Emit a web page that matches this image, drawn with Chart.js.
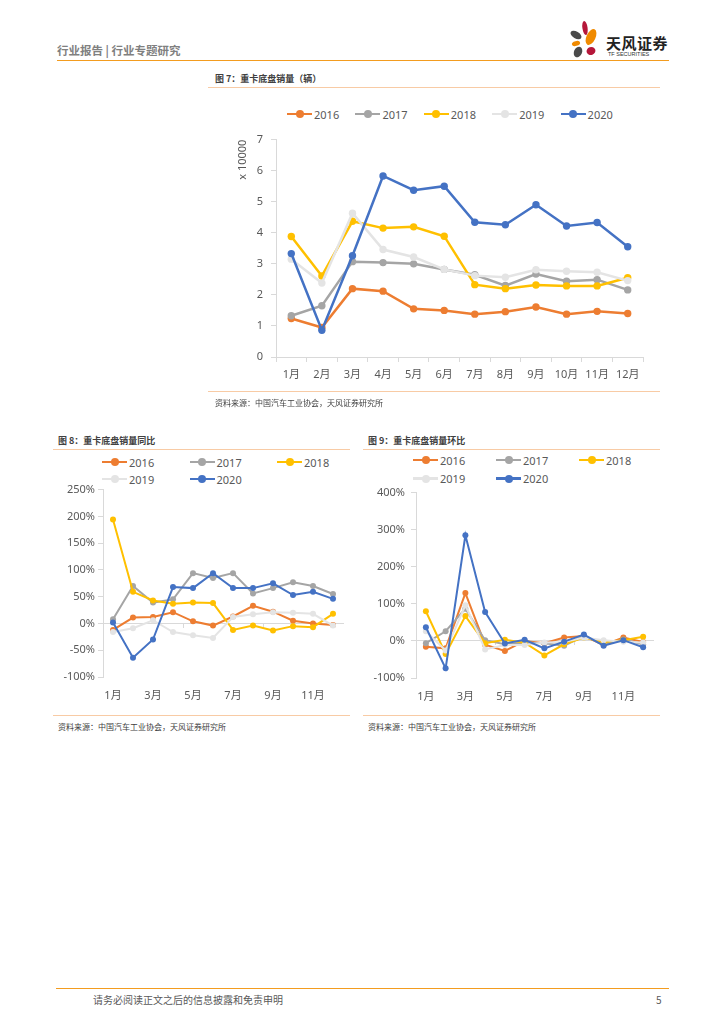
<!DOCTYPE html>
<html>
<head>
<meta charset="utf-8">
<script src="https://cdn.jsdelivr.net/npm/chart.js@4.4.1/dist/chart.umd.min.js"></script>
<style>
  body { margin: 0; background: #fff; font-family: "Noto Sans CJK SC", "Noto Sans", sans-serif; }
  #page { position: relative; width: 724px; height: 1024px; overflow: hidden; }
  .abs { position: absolute; white-space: nowrap; }
  .rule { position: absolute; height: 0; }
  .hdr { left: 57px; top: 42px; font-size: 11.5px; font-weight: bold; color: #808080; }
  .ttl { font-size: 9px; font-weight: bold; color: #404040; }
  .src { font-size: 8px; color: #404040; }
  .lg { position: absolute; display: flex; align-items: center; height: 14px; font-size: 11px; color: #595959; font-family: "Noto Sans", "Noto Sans CJK SC", sans-serif; }
  .sw { position: relative; display: inline-block; height: 2.5px; margin-right: 2px; }
  .sw i { position: absolute; left: 50%; top: 50%; width: 8px; height: 8px; margin: -4px 0 0 -4px; border-radius: 50%; }
  canvas { position: absolute; }
</style>
</head>
<body>
<div id="page">
  <div class="abs hdr">行业报告 | 行业专题研究</div>
  <svg class="abs" style="left:566px;top:20px" width="36" height="40" viewBox="0 0 36 40">
    <ellipse cx="19" cy="8" rx="2.6" ry="7" fill="#b5173a" transform="rotate(-8 19 8)"/>
    <ellipse cx="25" cy="17" rx="4.5" ry="8.5" fill="#f08a00" transform="rotate(25 25 17)"/>
    <ellipse cx="10" cy="15" rx="6" ry="3.4" fill="#4a4a4a" transform="rotate(30 10 15)"/>
    <ellipse cx="10" cy="23.5" rx="4.2" ry="2.4" fill="#f08a00" transform="rotate(-15 10 23.5)"/>
    <ellipse cx="12" cy="32" rx="4" ry="5.5" fill="#4a4a4a" transform="rotate(25 12 32)"/>
    <ellipse cx="25" cy="31" rx="4.5" ry="4" fill="#b5173a" transform="rotate(-20 25 31)"/>
  </svg>
  <div class="abs" style="left:606px;top:32px;font-size:15px;font-weight:bold;color:#222;letter-spacing:0.5px">天风证券</div>
  <div class="abs" style="left:608px;top:51px;font-size:5.5px;color:#333;font-family:'Liberation Sans',sans-serif">TF SECURITIES</div>
  <div class="rule" style="left:57px;top:60px;width:612px;border-top:1.6px solid #f39c1f"></div>

  <!-- figure 7 -->
  <div class="abs ttl" style="left:215px;top:72px">图 7：重卡底盘销量（辆）</div>
  <div class="rule" style="left:208px;top:87px;width:452px;border-top:1.5px solid #f8cba5"></div>
  <div id="lg1"></div>
  <canvas id="c1" width="450" height="270" style="left:210px;top:125px"></canvas>
  <div class="rule" style="left:208px;top:391px;width:452px;border-top:1.5px solid #f8cba5"></div>
  <div class="abs src" style="left:215px;top:397px">资料来源：中国汽车工业协会，天风证券研究所</div>

  <!-- figure 8 -->
  <div class="abs ttl" style="left:58px;top:434px">图 8：重卡底盘销量同比</div>
  <div class="rule" style="left:53px;top:449px;width:297px;border-top:1.5px solid #f8cba5"></div>
  <div id="lg2"></div>
  <canvas id="c2" width="297" height="232" style="left:53px;top:480px"></canvas>
  <div class="rule" style="left:53px;top:715px;width:297px;border-top:1.5px solid #f8cba5"></div>
  <div class="abs src" style="left:58px;top:721px">资料来源：中国汽车工业协会，天风证券研究所</div>

  <!-- figure 9 -->
  <div class="abs ttl" style="left:368px;top:434px">图 9：重卡底盘销量环比</div>
  <div class="rule" style="left:363px;top:449px;width:297px;border-top:1.5px solid #f8cba5"></div>
  <div id="lg3"></div>
  <canvas id="c3" width="297" height="232" style="left:363px;top:480px"></canvas>
  <div class="rule" style="left:363px;top:715px;width:297px;border-top:1.5px solid #f8cba5"></div>
  <div class="abs src" style="left:368px;top:721px">资料来源：中国汽车工业协会，天风证券研究所</div>

  <div class="rule" style="left:56px;top:988px;width:613px;border-top:1.6px solid #f39c1f"></div>
  <div class="abs" style="left:93px;top:992px;font-size:10px;color:#595959">请务必阅读正文之后的信息披露和免责申明</div>
  <div class="abs" style="left:656px;top:992px;font-size:10px;color:#595959">5</div>
</div>

<script>
const months = ["1月", "2月", "3月", "4月", "5月", "6月", "7月", "8月", "9月", "10月", "11月", "12月"];
const years = ["2016", "2017", "2018", "2019", "2020"];

// 图7 销量，单位 x 10000 辆
const sales2016 = [1.24, 0.95, 2.20, 2.12, 1.55, 1.50, 1.38, 1.46, 1.61, 1.38, 1.47, 1.40];
const sales2017 = [1.33, 1.65, 3.07, 3.04, 3.00, 2.82, 2.65, 2.30, 2.67, 2.44, 2.49, 2.16];
const sales2018 = [3.88, 2.61, 4.37, 4.15, 4.19, 3.89, 2.33, 2.20, 2.32, 2.29, 2.29, 2.55];
const sales2019 = [3.15, 2.38, 4.63, 3.46, 3.22, 2.82, 2.62, 2.57, 2.81, 2.76, 2.73, 2.46];
const sales2020 = [3.33, 0.86, 3.26, 5.83, 5.37, 5.50, 4.34, 4.26, 4.90, 4.22, 4.33, 3.55];

// 图8 同比 (%)
const yoy2016 = [-12, 11, 12, 21, 4, -4, 13, 33, 22, 5, 0, -3];
const yoy2017 = [8, 70, 39, 45, 94, 85, 94, 56, 66, 77, 70, 55];
const yoy2018 = [194, 59, 43, 37, 39, 38, -12, -4, -13, -5, -7, 18];
const yoy2019 = [-16, -9, 6, -16, -22, -27, 12, 17, 21, 20, 18, -4];
const yoy2020 = [2, -64, -30, 68, 66, 94, 66, 66, 75, 53, 59, 46];

// 图9 环比 (%)
const mom2016 = [-16, -20, 129, -10, -27, 0, -6, 9, 13, -11, 9, -3];
const mom2017 = [-6, 26, 87, 2, -9, -4, -6, -13, 13, -9, 4, -9];
const mom2018 = [80, -35, 67, -6, 3, -5, -39, -9, 9, -3, 2, 11];
const mom2019 = [26, -26, 96, -23, -11, -11, -4, -3, 9, 2, -2, -4];
const mom2020 = [37, -74, 285, 78, -7, 3, -20, -2, 17, -13, 2, -17];

const salesTicks = [0, 1, 2, 3, 4, 5, 6, 7];
const yoyTicks = [-100, -50, 0, 50, 100, 150, 200, 250];
const momTicks = [-100, 0, 100, 200, 300, 400];

const colors = ["#ed7d31", "#a5a5a5", "#ffc000", "#e4e4e4", "#4472c4"];
const axisGray = "#d9d9d9";
const textGray = "#595959";
const tickFont = { family: '"Noto Sans", "Noto Sans CJK SC", sans-serif', size: 11 };

Chart.defaults.animation = false;
Chart.defaults.responsive = false;
Chart.defaults.color = textGray;

function makeDatasets(series, lineW, radius) {
  return series.map((data, i) => ({
    label: years[i],
    data: data,
    borderColor: colors[i],
    backgroundColor: colors[i],
    pointBackgroundColor: colors[i],
    pointBorderWidth: 0,
    pointRadius: radius,
    borderWidth: lineW,
    tension: 0,
    order: 4 - i
  }));
}

function buildLegend(id, chart, left, top, colW, rowH, perRow, sw) {
  const box = document.getElementById(id);
  chart.data.datasets.forEach((ds, i) => {
    const item = document.createElement("div");
    item.className = "lg";
    item.style.left = (left + (i % perRow) * colW) + "px";
    item.style.top = (top + Math.floor(i / perRow) * rowH - 7) + "px";
    item.innerHTML = `<span class="sw" style="width:${sw}px;background:${ds.borderColor}"><i style="background:${ds.borderColor}"></i></span>${ds.label}`;
    box.appendChild(item);
  });
}

function fixedTicks(values, fmt) {
  return {
    afterBuildTicks: s => { s.ticks = values.map(v => ({ value: v })); },
    ticks: { callback: v => fmt(v), font: tickFont, color: textGray }
  };
}

// 图7
const chart1 = new Chart(document.getElementById("c1"), {
  type: "line",
  data: { labels: months, datasets: makeDatasets([sales2016, sales2017, sales2018, sales2019, sales2020], 2.5, 3.7) },
  options: {
    layout: { padding: { top: 12, right: 17, left: 0, bottom: 0 } },
    plugins: { legend: { display: false }, tooltip: { enabled: false } },
    scales: {
      x: {
        offset: true,
        grid: { offset: true, drawOnChartArea: false, tickLength: 5, color: axisGray },
        border: { color: axisGray },
        ticks: { font: tickFont, color: textGray, padding: 6, maxRotation: 0, autoSkip: false },
        afterFit: s => { s.height = 38; }
      },
      y: {
        min: 0, max: 7,
        afterBuildTicks: s => { s.ticks = salesTicks.map(v => ({ value: v })); },
        grid: { drawOnChartArea: false, tickLength: 5, color: axisGray },
        border: { color: axisGray },
        ticks: { font: tickFont, color: textGray, padding: 8 },
        title: { display: true, text: "x 10000", align: "end", color: textGray, font: { family: tickFont.family, size: 11 }, padding: { top: 26, bottom: 0 } },
        afterFit: s => { s.width = 66; }
      }
    }
  }
});
buildLegend("lg1", chart1, 287, 114, 68.4, 0, 5, 25);

function smallChart(canvasId, series, ticks, yMin, yMax, yWidth, padRight, xHeight, yPad) {
  return new Chart(document.getElementById(canvasId), {
    type: "line",
    data: { labels: months, datasets: makeDatasets(series, 2, 3) },
    options: {
      layout: { padding: { top: 7, right: padRight, left: 0, bottom: 0 } },
      plugins: { legend: { display: false }, tooltip: { enabled: false } },
      scales: {
        x: {
          offset: true,
          grid: { display: false, drawTicks: false },
          border: { display: false },
          ticks: {
            font: tickFont, color: textGray, padding: 12, maxRotation: 0, autoSkip: false,
            callback: (v, i) => (i % 2 === 0 ? months[i] : "")
          },
          afterFit: s => { s.height = xHeight; }
        },
        x2: {
          axis: "x",
          type: "category",
          position: { y: 0 },
          offset: true,
          grid: { offset: true, drawOnChartArea: false, tickLength: 4, color: c => (c.index % 4 === 0 ? axisGray : "rgba(0,0,0,0)") },
          border: { color: axisGray },
          ticks: { display: false }
        },
        y: {
          min: yMin, max: yMax,
          afterBuildTicks: s => { s.ticks = ticks.map(v => ({ value: v })); },
          grid: { drawOnChartArea: false, tickLength: 5, color: axisGray },
          border: { color: axisGray },
          ticks: { font: tickFont, color: textGray, padding: yPad, callback: v => v + "%" },
          afterFit: s => { s.width = yWidth; }
        }
      }
    }
  });
}

// 图8
const chart2 = smallChart("c2", [yoy2016, yoy2017, yoy2018, yoy2019, yoy2020], yoyTicks, -100, 250, 50, 7, 35, 3);
buildLegend("lg2", chart2, 102, 462, 87.5, 17, 3, 25);

// 图9
const chart3 = smallChart("c3", [mom2016, mom2017, mom2018, mom2019, mom2020], momTicks, -100, 400, 53, 7, 34, 6);
buildLegend("lg3", chart3, 413, 460, 83, 18.5, 3, 25);
</script>
</body>
</html>
